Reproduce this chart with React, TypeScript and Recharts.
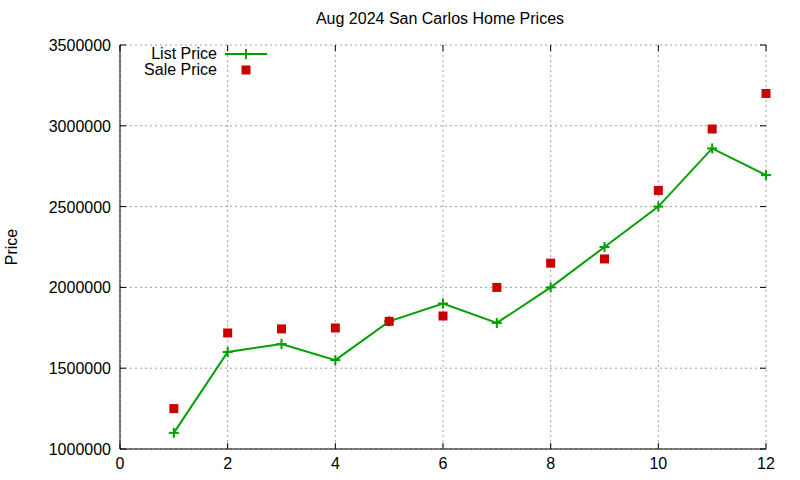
import { CartesianGrid, Line, LineChart, XAxis, YAxis } from "recharts";

const months = [1, 2, 3, 4, 5, 6, 7, 8, 9, 10, 11, 12];
const listPrice = [
  1100000, 1600000, 1650000, 1550000, 1790000, 1900000, 1780000, 2000000, 2250000, 2500000,
  2860000, 2695000,
];
const salePrice = [
  1250000, 1718000, 1743000, 1749000, 1790000, 1823000, 2000000, 2150000, 2176000, 2600000,
  2980000, 3200000,
];
const xTicks = [0, 2, 4, 6, 8, 10, 12];
const yTicks = [1000000, 1500000, 2000000, 2500000, 3000000, 3500000];

const W = 800;
const H = 480;
const LEFT = 120;
const RIGHT = 766;
const TOP = 45;
const BOTTOM = 449;
const FONT = "'Liberation Sans', Arial, sans-serif";
const GREEN = "#00a000";
const RED = "#cc0000";

const data = months.map((m, i) => ({ month: m, list: listPrice[i], sale: salePrice[i] }));

function Cross({ cx, cy }: { cx?: number; cy?: number }) {
  if (cx == null || cy == null) return null;
  return (
    <g stroke={GREEN} strokeWidth={2}>
      <line x1={cx - 5} y1={cy} x2={cx + 5} y2={cy} />
      <line x1={cx} y1={cy - 5} x2={cx} y2={cy + 5} />
    </g>
  );
}

function Square({ cx, cy }: { cx?: number; cy?: number }) {
  if (cx == null || cy == null) return null;
  return <rect x={cx - 4.5} y={cy - 4.5} width={9} height={9} fill={RED} />;
}

// gnuplot-style ticks: drawn inward, mirrored on the opposite border
function XTick({ x, y, payload }: any) {
  return (
    <g>
      <line x1={x} y1={BOTTOM} x2={x} y2={BOTTOM - 6} stroke="#000" />
      <line x1={x} y1={TOP} x2={x} y2={TOP + 6} stroke="#000" />
      <text x={x} y={y + 12} textAnchor="middle" fontSize={16} fontFamily={FONT} fill="#000">
        {payload.value}
      </text>
    </g>
  );
}

function YTick({ y, payload }: any) {
  return (
    <g>
      <line x1={LEFT} y1={y} x2={LEFT + 6} y2={y} stroke="#000" />
      <line x1={RIGHT} y1={y} x2={RIGHT - 6} y2={y} stroke="#000" />
      <text x={LEFT - 9} y={y + 6} textAnchor="end" fontSize={16} fontFamily={FONT} fill="#000">
        {payload.value}
      </text>
    </g>
  );
}

export default function App() {
  return (
    <div style={{ position: "absolute", left: 0, top: 0, width: W, height: H, background: "#fff" }}>
      <LineChart
        width={W}
        height={H}
        data={data}
        margin={{ top: TOP, right: W - RIGHT, bottom: 1, left: LEFT - 80 }}
      >
        <CartesianGrid
          stroke="#a0a0a0"
          strokeDasharray="2 3"
          verticalValues={xTicks}
          horizontalValues={yTicks}
        />
        <XAxis
          dataKey="month"
          type="number"
          domain={[0, 12]}
          ticks={xTicks}
          height={H - BOTTOM - 1}
          stroke="#000"
          tickLine={false}
          tick={<XTick />}
          interval={0}
        />
        <YAxis
          type="number"
          domain={[1000000, 3500000]}
          ticks={yTicks}
          width={80}
          stroke="#000"
          tickLine={false}
          tick={<YTick />}
          interval={0}
        />
        <XAxis xAxisId="top" orientation="top" dataKey="month" type="number" domain={[0, 12]} tick={false} height={0} stroke="#000" />
        <YAxis yAxisId="right" orientation="right" domain={[1000000, 3500000]} tick={false} width={0} stroke="#000" />
        <Line
          type="linear"
          dataKey="list"
          stroke={GREEN}
          strokeWidth={2}
          dot={<Cross />}
          activeDot={false}
          isAnimationActive={false}
        />
        <Line
          type="linear"
          dataKey="sale"
          stroke="none"
          dot={<Square />}
          activeDot={false}
          isAnimationActive={false}
        />
      </LineChart>

      <div
        style={{
          position: "absolute",
          left: 0,
          width: 880,
          top: 10,
          textAlign: "center",
          fontFamily: FONT,
          fontSize: 16,
        }}
      >
        Aug 2024 San Carlos Home Prices
      </div>
      <div
        style={{
          position: "absolute",
          left: 12,
          top: 247,
          transform: "translate(-50%, -50%) rotate(-90deg)",
          fontFamily: FONT,
          fontSize: 16,
        }}
      >
        Price
      </div>
      <div style={{ position: "absolute", left: 100, top: 46, fontFamily: FONT, fontSize: 16, lineHeight: "16px" }}>
        {[
          { name: "List Price", kind: "line" },
          { name: "Sale Price", kind: "square" },
        ].map((item) => (
          <div key={item.name} style={{ display: "flex", alignItems: "center", height: 16 }}>
            <span style={{ width: 117, textAlign: "right" }}>{item.name}</span>
            <svg width={50} height={16} style={{ marginLeft: 8 }}>
              {item.kind === "line" ? (
                <g stroke={GREEN} strokeWidth={2}>
                  <line x1={0} y1={8} x2={42} y2={8} />
                  <line x1={21} y1={3} x2={21} y2={13} />
                </g>
              ) : (
                <rect x={16.5} y={3.5} width={9} height={9} fill={RED} />
              )}
            </svg>
          </div>
        ))}
      </div>
    </div>
  );
}
